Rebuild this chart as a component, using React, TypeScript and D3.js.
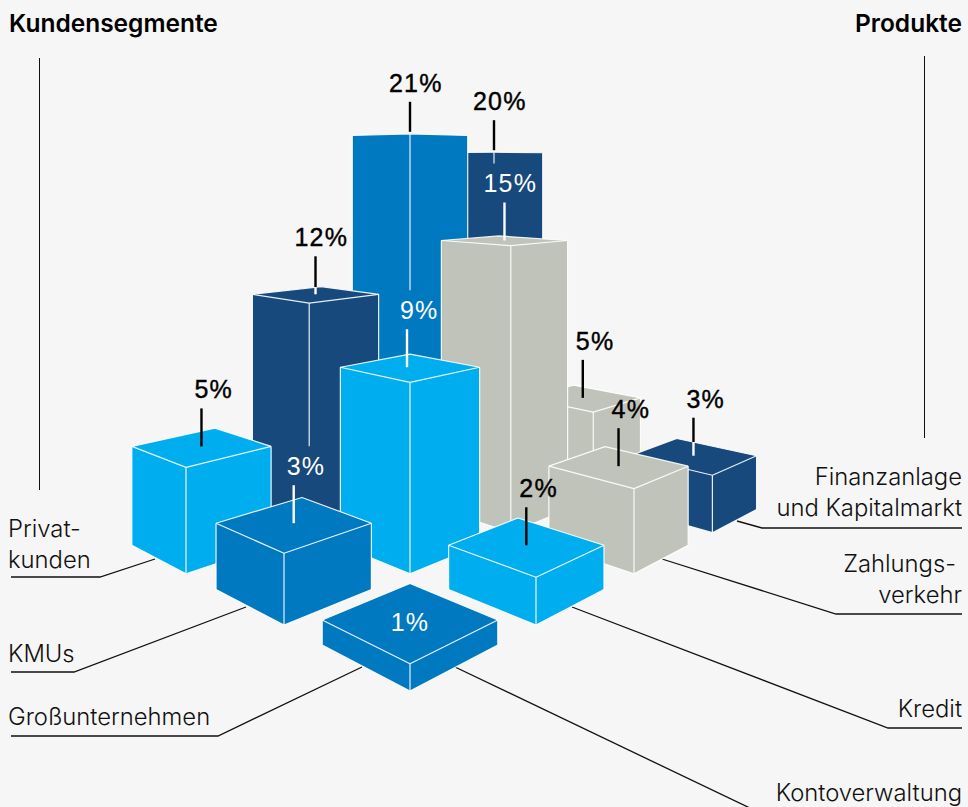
import React from 'react';
import * as d3 from 'd3';

// rows run from the front of the floor to the back
const segments = ['Großunternehmen', 'KMUs', 'Privatkunden'];
const products = ['Kontoverwaltung', 'Kredit', 'Zahlungsverkehr', 'Finanzanlage'];

const grossValues = [1, 2, 4, 3];
const kmuValues = [3, 9, 15, 5];
const privatValues = [5, 12, 21, 20];
const shares = [grossValues, kmuValues, privatValues];

const BRIGHT = '#00aeef';
const MID = '#0079c1';
const NAVY = '#17497c';
const GREY = '#bfc3b9';
const barColors = [
  [MID, BRIGHT, GREY, NAVY],
  [MID, BRIGHT, GREY, GREY],
  [BRIGHT, NAVY, MID, NAVY],
];
// labels drawn white, the others are black
const whiteLabels = ['0-0', '1-0', '1-1', '1-2'];

const leftLabels = [
  { lines: ['Privat-', 'kunden'], y: 537, lineY: 577, bendX: 100, endX: 155, endY: 559 },
  { lines: ['KMUs'], y: 662, lineY: 672, bendX: 74, endX: 246, endY: 607 },
  { lines: ['Großunternehmen'], y: 725, lineY: 736, bendX: 218, endX: 362, endY: 667 },
];
const rightLabels = [
  { lines: ['Finanzanlage', 'und Kapitalmarkt'], y: 485, lineY: 528, bendX: 762, endX: 737, endY: 521 },
  { lines: ['Zahlungs-', 'verkehr'], y: 572, lineY: 614, bendX: 836, endX: 662, endY: 559 },
  { lines: ['Kredit'], y: 717, lineY: 728, bendX: 888, endX: 572, endY: 607 },
];

const FONT = 'Inter, "Liberation Sans", sans-serif';
const NUM_FONT = '"Liberation Sans", Arial, sans-serif';

// the floor is a real perspective plane, vanishing towards the back
const CENTER_X = 410;
const FRONT_Y = 691;
const SPREAD = 144;
const RISE = 75.4;
const FALLOFF = 1 / 7;
const FOOT = 0.668;

const uScale = d3.scalePoint<string>().domain(products).range([0, 3]);
const vScale = d3.scalePoint<string>().domain(segments).range([0, 2]);
const hScale = d3.scaleLinear().domain([0, 21]).range([0, 574]);

const project = (u: number, v: number, value: number): [number, number] => {
  const k = 1 + FALLOFF * (u + v);
  return [
    CENTER_X + (SPREAD * (u - v)) / k,
    FRONT_Y - (RISE * (u + v)) / k - hScale(value) / k,
  ];
};

const line = d3.line();

type Bar = {
  key: string;
  row: number;
  col: number;
  value: number;
  color: string;
  white: boolean;
  depth: number;
  u: number;
  v: number;
};

const bars: Bar[] = [];
segments.forEach((s, row) => {
  products.forEach((p, col) => {
    const u = uScale(p) as number;
    const v = vScale(s) as number;
    bars.push({
      key: row + '-' + col,
      row,
      col,
      value: shares[row][col],
      color: barColors[row][col],
      white: whiteLabels.includes(row + '-' + col),
      depth: u + v,
      u,
      v,
    });
  });
});

const corners = (b: Bar) => ({
  ft: project(b.u, b.v, b.value),
  lt: project(b.u, b.v + FOOT, b.value),
  rt: project(b.u + FOOT, b.v, b.value),
  bt: project(b.u + FOOT, b.v + FOOT, b.value),
  fb: project(b.u, b.v, 0),
  lb: project(b.u, b.v + FOOT, 0),
  rb: project(b.u + FOOT, b.v, 0),
});

const labelOf = (b: Bar) => {
  const c = corners(b);
  const hidden = c.bt[1] >= c.ft[1];
  const center = project(b.u + FOOT / 2, b.v + FOOT / 2, b.value);
  // the 9% leader sits a little left of its box centre in the original
  const x = (hidden ? c.ft[0] : center[0]) - (b.key === '1-1' ? 3 : 0);
  const bottom = hidden ? c.ft[1] - 2 : center[1];
  const top = bottom - (hidden ? 30 : 38);
  const digits = String(b.value).length;
  return {
    x,
    bottom,
    top,
    hidden,
    textX: x - 7 - 14 * (digits - 1),
    baseline: top - 10,
  };
};

const Box = ({ b }: { b: Bar }) => {
  const c = corners(b);
  const info = labelOf(b);
  // the front edge stops short of the white label of the box standing in front
  const front = bars.find(o => o.row === b.row - 1 && o.col === b.col - 1);
  let edgeEnd = c.fb[1];
  if (front && front.white && front.value > 1) {
    edgeEnd = Math.min(edgeEnd, labelOf(front).baseline - 29);
  }
  const outline = [c.lt, c.lb, c.fb, c.rb, c.rt] as [number, number][];
  const peak = info.hidden ? c.ft : c.bt;
  return (
    <g>
      <path d={line([c.lt, peak, c.rt, c.rb, c.fb, c.lb]) + 'Z'} fill={b.color} />
      <g fill="none" stroke="#fff" strokeWidth={1.2} strokeLinejoin="round" strokeOpacity={0.9}>
        <path d={line(outline) as string} />
        <path d={line([c.lt, c.ft, c.rt]) as string} />
        {!info.hidden && <path d={line([c.lt, c.bt, c.rt]) as string} />}
        <path d={line([c.ft, [c.ft[0], edgeEnd]]) as string} />
      </g>
    </g>
  );
};

// where the leader enters the box's top face
const backEdgeY = (b: Bar, x: number) => {
  const c = corners(b);
  const other = x > c.bt[0] ? c.rt : c.lt;
  return d3.scaleLinear().domain([c.bt[0], other[0]]).range([c.bt[1], other[1]])(x);
};

const Label = ({ b }: { b: Bar }) => {
  const info = labelOf(b);
  const color = b.white ? '#fff' : '#000';
  const textProps = {
    fill: color,
    stroke: b.white ? 'none' : '#000',
    strokeWidth: 0.4,
    fontFamily: NUM_FONT,
    fontSize: 25,
    letterSpacing: 1.2,
  };
  if (b.value === 1) {
    return (
      <text {...textProps} x={info.x} y={info.bottom + 11} textAnchor="middle">
        {b.value}%
      </text>
    );
  }
  const onDark = !b.white && b.color === NAVY && !info.hidden;
  const enter = onDark ? backEdgeY(b, info.x) : info.bottom;
  return (
    <g>
      <line x1={info.x} x2={info.x} y1={info.top} y2={enter} stroke={color} strokeWidth={2.4} />
      {onDark && (
        <line x1={info.x} x2={info.x} y1={enter} y2={info.bottom} stroke="#fff" strokeWidth={2.4} />
      )}
      <text {...textProps} x={info.textX} y={info.baseline}>
        {b.value}%
      </text>
    </g>
  );
};

const labelStyle = { fontFamily: FONT, fontSize: 23.8, fontWeight: 300, fill: '#111' };
const LINE_H = 31;

const App = () => {
  const ordered = d3.sort(bars, b => -b.depth);
  return (
    <svg width={968} height={807} style={{ display: 'block', position: 'fixed', left: 0, top: 0 }}>
      <rect width={968} height={807} fill="#f6f6f6" />

      <text x={9} y={32} fontFamily={FONT} fontSize={24.5} fontWeight={600} fill="#000">
        Kundensegmente
      </text>
      <text x={962} y={32} textAnchor="end" fontFamily={FONT} fontSize={24.5} fontWeight={600} fill="#000">
        Produkte
      </text>
      <line x1={39.5} x2={39.5} y1={58} y2={490} stroke="#111" strokeWidth={1} />
      <line x1={924.5} x2={924.5} y1={56} y2={438} stroke="#111" strokeWidth={1} />

      {leftLabels.map(l => (
        <g key={l.lines[0]}>
          <path
            d={line([[11, l.lineY], [l.bendX, l.lineY], [l.endX, l.endY]]) as string}
            fill="none"
            stroke="#111"
            strokeWidth={1.3}
          />
          {l.lines.map((t, i) => (
            <text key={t} {...labelStyle} x={8} y={l.y + i * LINE_H}>
              {t}
            </text>
          ))}
        </g>
      ))}
      {rightLabels.map(l => (
        <g key={l.lines[0]}>
          <path
            d={line([[962, l.lineY], [l.bendX, l.lineY], [l.endX, l.endY]]) as string}
            fill="none"
            stroke="#111"
            strokeWidth={1.3}
          />
          {l.lines.map((t, i) => (
            <text key={t} {...labelStyle} x={t === 'Zahlungs-' ? 956 : 962} y={l.y + i * LINE_H} textAnchor="end">
              {t}
            </text>
          ))}
        </g>
      ))}
      <path d={line([[455, 667], [752, 809]]) as string} fill="none" stroke="#111" strokeWidth={1.3} />
      <text {...labelStyle} x={962} y={801} textAnchor="end">
        Kontoverwaltung
      </text>

      {ordered.map(b => (
        <Box key={b.key} b={b} />
      ))}
      {bars.map(b => (
        <Label key={b.key} b={b} />
      ))}
    </svg>
  );
};

export default App;
